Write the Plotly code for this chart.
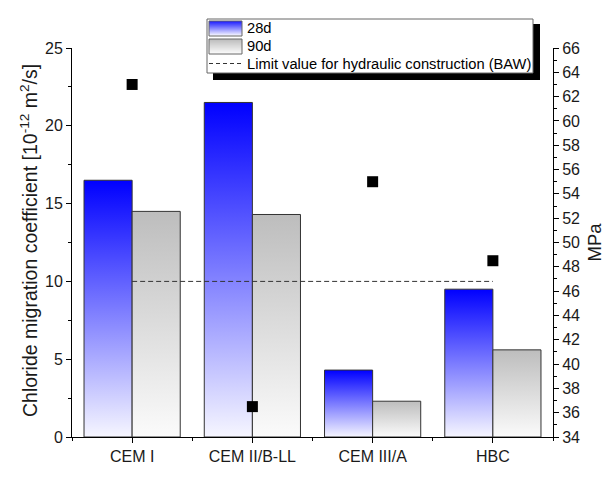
import plotly.graph_objects as go

# --- data ---------------------------------------------------------------
categories = ["CEM I", "CEM II/B-LL", "CEM III/A", "HBC"]
migration_28d = [16.5, 21.5, 4.3, 9.5]
migration_90d = [14.5, 14.3, 2.3, 5.6]
strength_mpa = [63.0, 36.5, 55.0, 48.5]
limit_value = 10.0

# --- styling ------------------------------------------------------------
W, H = 611, 479
ML, MR, MT, MB = 72, 58, 48, 42
BAR_W = 0.4
FONT = "Liberation Sans, Arial, sans-serif"
TEXT = "#1a1a1a"
BLUE_TOP, BLUE_BOTTOM = "#0000ff", "#f6f6ff"
GREY_TOP, GREY_BOTTOM = "#bdbdbd", "#fbfbfb"
OUTLINE = "#333333"

fig = go.Figure()


def add_bar(i, offset, value, top, bottom):
    x0 = i + offset
    x1 = x0 + BAR_W
    fig.add_trace(go.Scatter(
        x=[x0, x1, x1, x0, x0], y=[0, 0, value, value, 0],
        mode="lines", fill="toself",
        line=dict(color=OUTLINE, width=1),
        fillgradient=dict(type="vertical",
                          colorscale=[[0, bottom], [1, top]],
                          start=0, stop=value),
        showlegend=False, hoverinfo="skip",
    ))


for i, cat in enumerate(categories):
    add_bar(i, -BAR_W, migration_28d[i], BLUE_TOP, BLUE_BOTTOM)
    add_bar(i, 0.0, migration_90d[i], GREY_TOP, GREY_BOTTOM)

# limit line between the first and last category
fig.add_trace(go.Scatter(
    x=[0, len(categories) - 1], y=[limit_value, limit_value],
    mode="lines", line=dict(color=OUTLINE, width=1, dash="5px,3px"),
    showlegend=False, hoverinfo="skip",
))

# compressive strength markers on the right axis
fig.add_trace(go.Scatter(
    x=list(range(len(categories))), y=strength_mpa, yaxis="y2",
    mode="markers", marker=dict(symbol="square", size=11, color="black"),
    showlegend=False,
))

# --- hand-drawn legend box ----------------------------------------------
plot_w = W - ML - MR
plot_h = H - MT - MB


def px(x):
    return (x - ML) / plot_w


def py(y):
    return (H - MB - y) / plot_h


shapes = []
# shadow and frame
shapes.append(dict(type="rect", xref="paper", yref="paper",
                   x0=px(213), x1=px(540), y0=py(80), y1=py(24),
                   fillcolor="black", line=dict(width=0), layer="above"))
shapes.append(dict(type="rect", xref="paper", yref="paper",
                   x0=px(207), x1=px(533), y0=py(73), y1=py(19),
                   fillcolor="white", line=dict(color="#666666", width=1),
                   layer="above"))


def hex_mix(c1, c2, t):
    a = [int(c1[k:k + 2], 16) for k in (1, 3, 5)]
    b = [int(c2[k:k + 2], 16) for k in (1, 3, 5)]
    return "#%02x%02x%02x" % tuple(round(a[j] + (b[j] - a[j]) * t) for j in range(3))


def swatch(y_top, y_bot, top, bottom):
    n = int(y_bot - y_top)
    for k in range(n):
        shapes.append(dict(type="rect", xref="paper", yref="paper",
                           x0=px(209), x1=px(242),
                           y0=py(y_top + k + 1), y1=py(y_top + k),
                           fillcolor=hex_mix(top, bottom, k / max(n - 1, 1)),
                           line=dict(width=0), layer="above"))
    shapes.append(dict(type="rect", xref="paper", yref="paper",
                       x0=px(209), x1=px(242), y0=py(y_bot), y1=py(y_top),
                       line=dict(color="#666666", width=1), layer="above"))


swatch(21, 36, "#2020ff", BLUE_BOTTOM)
swatch(39, 54, GREY_TOP, GREY_BOTTOM)
shapes.append(dict(type="line", xref="paper", yref="paper",
                   x0=px(209), x1=px(243), y0=py(63.5), y1=py(63.5),
                   line=dict(color=OUTLINE, width=1, dash="4px,3px"),
                   layer="above"))

legend_labels = ["28d", "90d", "Limit value for hydraulic construction (BAW)"]
legend_rows = [28.5, 46.5, 63.5]
annotations = [
    dict(text=t, xref="paper", yref="paper", x=px(245), y=py(yy),
         xanchor="left", yanchor="middle", showarrow=False,
         font=dict(family=FONT, size=14.7, color="black"))
    for t, yy in zip(legend_labels, legend_rows)
]

# left axis title, placed as rotated text beside the tick labels
annotations.append(dict(
    text="Chloride migration coefficient [10<sup>-12</sup> m<sup>2</sup>/s]",
    xref="paper", yref="paper", x=px(29), y=py(241),
    xanchor="center", yanchor="middle", textangle=-90, showarrow=False,
    font=dict(family=FONT, size=19.5, color=TEXT),
))

axis_common = dict(
    showgrid=False, zeroline=False, showline=True, linecolor="black",
    linewidth=1, ticks="outside", tickcolor="black", ticklen=5,
    tickfont=dict(family=FONT, size=16, color=TEXT),
)

fig.update_layout(
    width=W, height=H, autosize=False,
    margin=dict(l=ML, r=MR, t=MT, b=MB),
    paper_bgcolor="white", plot_bgcolor="white",
    showlegend=False,
    font=dict(family=FONT, color=TEXT),
    xaxis=dict(
        range=[-0.5, len(categories) - 0.5],
        tickvals=list(range(len(categories))), ticktext=categories,
        minor=dict(ticks="outside", ticklen=3, tick0=0.5, dtick=1,
                   tickcolor="black"),
        **axis_common,
    ),
    yaxis=dict(
        range=[0, 25], dtick=5, automargin=False,
        minor=dict(ticks="outside", ticklen=3, dtick=2.5, tickcolor="black"),
        **axis_common,
    ),
    yaxis2=dict(
        range=[34, 66], dtick=2, overlaying="y", side="right",
        automargin=False,
        minor=dict(ticks="outside", ticklen=3, dtick=1, tickcolor="black"),
        title=dict(text="MPa", font=dict(family=FONT, size=18.5, color=TEXT),
                   standoff=8),
        **axis_common,
    ),
    shapes=shapes,
    annotations=annotations,
)

fig.write_html("out.html")
